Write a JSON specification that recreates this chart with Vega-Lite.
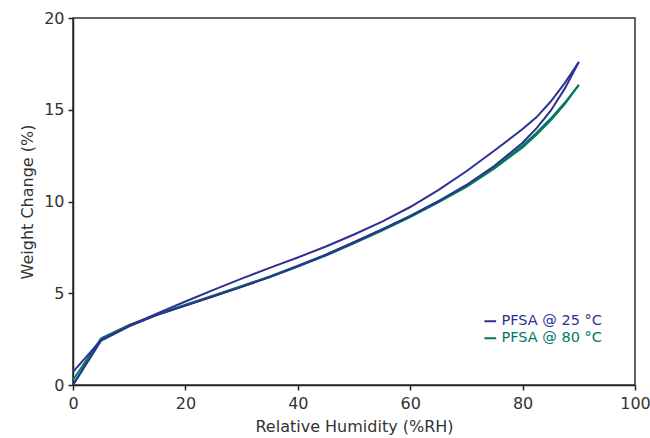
{
  "$schema": "https://vega.github.io/schema/vega-lite/v6.json",
  "width": 562,
  "height": 367,
  "autosize": {"type": "none"},
  "padding": {"left": 73, "top": 18, "right": 15, "bottom": 53},
  "background": "white",
  "config": {
    "view": {"stroke": "#333", "strokeWidth": 1.5},
    "font": "DejaVu Sans",
    "axis": {
      "grid": false,
      "domainColor": "#222",
      "domainWidth": 1.5,
      "tickColor": "#222",
      "tickWidth": 1.5,
      "tickSize": 5,
      "labelColor": "#333",
      "labelFontSize": 16,
      "labelFont": "DejaVu Sans",
      "labelFlush": false,
      "titleFont": "DejaVu Sans",
      "titleFontSize": 16,
      "titleFontWeight": "normal",
      "titleColor": "#333"
    }
  },
  "data": {
    "values": [
      {"series": "PFSA @ 80 °C", "branch": "sorption", "rh": 0, "w": 0},
      {"series": "PFSA @ 80 °C", "branch": "sorption", "rh": 5, "w": 2.5},
      {"series": "PFSA @ 80 °C", "branch": "sorption", "rh": 10, "w": 3.25},
      {"series": "PFSA @ 80 °C", "branch": "sorption", "rh": 15, "w": 3.82},
      {"series": "PFSA @ 80 °C", "branch": "sorption", "rh": 20, "w": 4.33},
      {"series": "PFSA @ 80 °C", "branch": "sorption", "rh": 25, "w": 4.83},
      {"series": "PFSA @ 80 °C", "branch": "sorption", "rh": 30, "w": 5.35},
      {"series": "PFSA @ 80 °C", "branch": "sorption", "rh": 35, "w": 5.88},
      {"series": "PFSA @ 80 °C", "branch": "sorption", "rh": 40, "w": 6.45},
      {"series": "PFSA @ 80 °C", "branch": "sorption", "rh": 45, "w": 7.05},
      {"series": "PFSA @ 80 °C", "branch": "sorption", "rh": 50, "w": 7.72},
      {"series": "PFSA @ 80 °C", "branch": "sorption", "rh": 55, "w": 8.42},
      {"series": "PFSA @ 80 °C", "branch": "sorption", "rh": 60, "w": 9.15},
      {"series": "PFSA @ 80 °C", "branch": "sorption", "rh": 65, "w": 9.95},
      {"series": "PFSA @ 80 °C", "branch": "sorption", "rh": 70, "w": 10.8},
      {"series": "PFSA @ 80 °C", "branch": "sorption", "rh": 75, "w": 11.8},
      {"series": "PFSA @ 80 °C", "branch": "sorption", "rh": 80, "w": 12.95},
      {"series": "PFSA @ 80 °C", "branch": "sorption", "rh": 82.5, "w": 13.65},
      {"series": "PFSA @ 80 °C", "branch": "sorption", "rh": 85, "w": 14.42},
      {"series": "PFSA @ 80 °C", "branch": "sorption", "rh": 87.5, "w": 15.3},
      {"series": "PFSA @ 80 °C", "branch": "sorption", "rh": 90, "w": 16.35},
      {"series": "PFSA @ 80 °C", "branch": "desorption", "rh": 90, "w": 16.35},
      {"series": "PFSA @ 80 °C", "branch": "desorption", "rh": 87.5, "w": 15.38},
      {"series": "PFSA @ 80 °C", "branch": "desorption", "rh": 85, "w": 14.52},
      {"series": "PFSA @ 80 °C", "branch": "desorption", "rh": 82.5, "w": 13.75},
      {"series": "PFSA @ 80 °C", "branch": "desorption", "rh": 80, "w": 13.05},
      {"series": "PFSA @ 80 °C", "branch": "desorption", "rh": 75, "w": 11.88},
      {"series": "PFSA @ 80 °C", "branch": "desorption", "rh": 70, "w": 10.88},
      {"series": "PFSA @ 80 °C", "branch": "desorption", "rh": 65, "w": 10.02},
      {"series": "PFSA @ 80 °C", "branch": "desorption", "rh": 60, "w": 9.22},
      {"series": "PFSA @ 80 °C", "branch": "desorption", "rh": 55, "w": 8.48},
      {"series": "PFSA @ 80 °C", "branch": "desorption", "rh": 50, "w": 7.78},
      {"series": "PFSA @ 80 °C", "branch": "desorption", "rh": 45, "w": 7.1},
      {"series": "PFSA @ 80 °C", "branch": "desorption", "rh": 40, "w": 6.5},
      {"series": "PFSA @ 80 °C", "branch": "desorption", "rh": 35, "w": 5.92},
      {"series": "PFSA @ 80 °C", "branch": "desorption", "rh": 30, "w": 5.4},
      {"series": "PFSA @ 80 °C", "branch": "desorption", "rh": 25, "w": 4.88},
      {"series": "PFSA @ 80 °C", "branch": "desorption", "rh": 20, "w": 4.38},
      {"series": "PFSA @ 80 °C", "branch": "desorption", "rh": 15, "w": 3.86},
      {"series": "PFSA @ 80 °C", "branch": "desorption", "rh": 10, "w": 3.28},
      {"series": "PFSA @ 80 °C", "branch": "desorption", "rh": 5, "w": 2.55},
      {"series": "PFSA @ 80 °C", "branch": "desorption", "rh": 0, "w": 0.27},
      {"series": "PFSA @ 25 °C", "branch": "sorption", "rh": 0, "w": 0},
      {"series": "PFSA @ 25 °C", "branch": "sorption", "rh": 5, "w": 2.42},
      {"series": "PFSA @ 25 °C", "branch": "sorption", "rh": 10, "w": 3.2},
      {"series": "PFSA @ 25 °C", "branch": "sorption", "rh": 15, "w": 3.82},
      {"series": "PFSA @ 25 °C", "branch": "sorption", "rh": 20, "w": 4.33},
      {"series": "PFSA @ 25 °C", "branch": "sorption", "rh": 25, "w": 4.84},
      {"series": "PFSA @ 25 °C", "branch": "sorption", "rh": 30, "w": 5.35},
      {"series": "PFSA @ 25 °C", "branch": "sorption", "rh": 35, "w": 5.88},
      {"series": "PFSA @ 25 °C", "branch": "sorption", "rh": 40, "w": 6.47},
      {"series": "PFSA @ 25 °C", "branch": "sorption", "rh": 45, "w": 7.1},
      {"series": "PFSA @ 25 °C", "branch": "sorption", "rh": 50, "w": 7.78},
      {"series": "PFSA @ 25 °C", "branch": "sorption", "rh": 55, "w": 8.48},
      {"series": "PFSA @ 25 °C", "branch": "sorption", "rh": 60, "w": 9.2},
      {"series": "PFSA @ 25 °C", "branch": "sorption", "rh": 65, "w": 10.0},
      {"series": "PFSA @ 25 °C", "branch": "sorption", "rh": 70, "w": 10.9},
      {"series": "PFSA @ 25 °C", "branch": "sorption", "rh": 75, "w": 11.95},
      {"series": "PFSA @ 25 °C", "branch": "sorption", "rh": 80, "w": 13.2},
      {"series": "PFSA @ 25 °C", "branch": "sorption", "rh": 82.5, "w": 14.0},
      {"series": "PFSA @ 25 °C", "branch": "sorption", "rh": 85, "w": 14.95},
      {"series": "PFSA @ 25 °C", "branch": "sorption", "rh": 87.5, "w": 16.15},
      {"series": "PFSA @ 25 °C", "branch": "sorption", "rh": 90, "w": 17.6},
      {"series": "PFSA @ 25 °C", "branch": "desorption", "rh": 90, "w": 17.6},
      {"series": "PFSA @ 25 °C", "branch": "desorption", "rh": 87.5, "w": 16.45},
      {"series": "PFSA @ 25 °C", "branch": "desorption", "rh": 85, "w": 15.45},
      {"series": "PFSA @ 25 °C", "branch": "desorption", "rh": 82.5, "w": 14.6},
      {"series": "PFSA @ 25 °C", "branch": "desorption", "rh": 80, "w": 13.95},
      {"series": "PFSA @ 25 °C", "branch": "desorption", "rh": 75, "w": 12.78},
      {"series": "PFSA @ 25 °C", "branch": "desorption", "rh": 70, "w": 11.65},
      {"series": "PFSA @ 25 °C", "branch": "desorption", "rh": 65, "w": 10.62},
      {"series": "PFSA @ 25 °C", "branch": "desorption", "rh": 60, "w": 9.7},
      {"series": "PFSA @ 25 °C", "branch": "desorption", "rh": 55, "w": 8.9},
      {"series": "PFSA @ 25 °C", "branch": "desorption", "rh": 50, "w": 8.2},
      {"series": "PFSA @ 25 °C", "branch": "desorption", "rh": 45, "w": 7.55},
      {"series": "PFSA @ 25 °C", "branch": "desorption", "rh": 40, "w": 6.95},
      {"series": "PFSA @ 25 °C", "branch": "desorption", "rh": 35, "w": 6.38},
      {"series": "PFSA @ 25 °C", "branch": "desorption", "rh": 30, "w": 5.8},
      {"series": "PFSA @ 25 °C", "branch": "desorption", "rh": 25, "w": 5.18},
      {"series": "PFSA @ 25 °C", "branch": "desorption", "rh": 20, "w": 4.55},
      {"series": "PFSA @ 25 °C", "branch": "desorption", "rh": 15, "w": 3.9},
      {"series": "PFSA @ 25 °C", "branch": "desorption", "rh": 10, "w": 3.22},
      {"series": "PFSA @ 25 °C", "branch": "desorption", "rh": 5, "w": 2.45},
      {"series": "PFSA @ 25 °C", "branch": "desorption", "rh": 0, "w": 0.72}
    ]
  },
  "encoding": {
    "x": {
      "field": "rh", "type": "quantitative",
      "scale": {"domain": [0, 100], "nice": false},
      "axis": {"values": [0, 20, 40, 60, 80, 100], "title": "Relative Humidity (%RH)", "titlePadding": 7, "labelPadding": 5}
    },
    "y": {
      "field": "w", "type": "quantitative",
      "scale": {"domain": [0, 20], "nice": false},
      "axis": {"values": [0, 5, 10, 15, 20], "title": "Weight Change (%)", "titlePadding": 8, "labelPadding": 4}
    },
    "color": {
      "field": "series", "type": "nominal",
      "scale": {"domain": ["PFSA @ 25 °C", "PFSA @ 80 °C"], "range": ["#2e3192", "#007a5e"]},
      "legend": {
        "title": null,
        "orient": "none",
        "legendX": 410,
        "legendY": 296,
        "symbolType": "stroke",
        "symbolStrokeWidth": 2,
        "symbolSize": 140,
        "labelFontSize": 14.5,
        "labelFont": "DejaVu Sans",
        "rowPadding": 2,
        "labelOffset": 4,
        "labelColor": {"expr": "datum.value === 'PFSA @ 25 °C' ? '#2e3192' : '#007a5e'"}
      }
    },
    "detail": {"field": "branch", "type": "nominal"},
    "order": {"field": "rh", "type": "quantitative"}
  },
  "layer": [
    {
      "transform": [{"filter": "datum.series === 'PFSA @ 80 °C'"}],
      "mark": {"type": "line", "strokeWidth": 2, "interpolate": "linear"}
    },
    {
      "transform": [{"filter": "datum.series === 'PFSA @ 25 °C'"}],
      "mark": {"type": "line", "strokeWidth": 2, "interpolate": "linear"}
    }
  ]
}
